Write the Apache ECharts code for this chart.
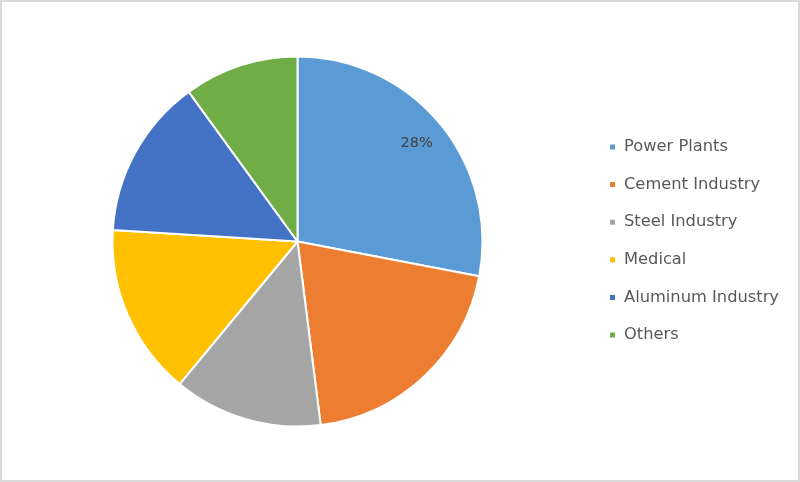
<!DOCTYPE html>
<html><head><meta charset="utf-8">
<script src="https://cdn.jsdelivr.net/npm/echarts@6/dist/echarts.min.js"></script>
<style>html,body{margin:0;padding:0;background:#fff;}#c{width:800px;height:482px;box-sizing:border-box;border:2px solid #d9d9d9;}</style>
</head><body><div id="c"></div>
<script>
const categories = ['Power Plants','Cement Industry','Steel Industry','Medical','Aluminum Industry','Others'];
const shares = [28, 20, 13, 15, 14, 10];
const colors = ['#5B9BD5','#ED7D31','#A5A5A5','#FFC000','#4472C4','#70AD47'];
const shownLabels = ['Power Plants'];

const chart = echarts.init(document.getElementById('c'), null, {renderer:'canvas'});
const data = categories.map((n,i)=>({name:n, value:shares[i], itemStyle:{color:colors[i]}}));
chart.setOption({
  animation:false,
  legend:{
    orient:'vertical', left:606, top:135, padding:0,
    icon:'rect', itemWidth:7, itemHeight:7, itemGap:17.6,
    data:categories,
    textStyle:{fontFamily:'DejaVu Sans', fontSize:16.3, color:'#595959', lineHeight:20, padding:[0,0,0,3]}
  },
  series:[
    {type:'pie', center:[295.5,239.5], radius:[0,185], startAngle:90, clockwise:true,
     silent:true, label:{show:false}, labelLine:{show:false},
     itemStyle:{borderColor:'#fff', borderWidth:2},
     data:data},
    {type:'pie', center:[295.5,239.5], radius:[118,185], startAngle:90, clockwise:true,
     silent:true, legendHoverLink:false,
     itemStyle:{color:'rgba(0,0,0,0)'},
     label:{show:true, position:'inside', fontFamily:'DejaVu Sans', fontSize:14.5, color:'#404040',
       formatter:p=> shownLabels.includes(p.name) ? p.value+'%' : ''},
     labelLine:{show:false},
     data:categories.map((n,i)=>({name:n, value:shares[i], itemStyle:{color:'rgba(0,0,0,0)'}}))}
  ]
});
</script></body></html>
